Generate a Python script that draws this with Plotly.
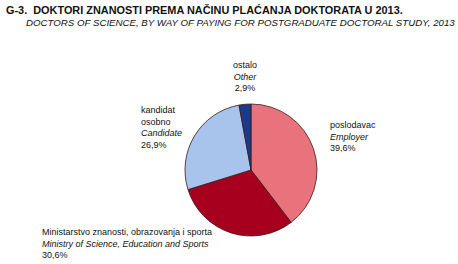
import plotly.graph_objects as go

labels_hr = ["poslodavac", "Ministarstvo znanosti, obrazovanja i sporta", "kandidat<br>osobno", "ostalo"]
labels_en = ["Employer", "Ministry of Science, Education and Sports", "Candidate", "Other"]
values = [39.6, 30.6, 26.9, 2.9]
colors = ["#E8737C", "#A6001E", "#A8C3EC", "#1B3A8A"]

FONT = "Liberation Sans Narrow, Arial Narrow, Liberation Sans, Arial, sans-serif"

fig = go.Figure()
fig.add_trace(go.Pie(
    labels=labels_en, values=values, sort=False, direction="clockwise", rotation=0,
    marker=dict(colors=colors, line=dict(color="#3a1a1a", width=0.8)),
    textinfo="none", hoverinfo="label+percent", showlegend=False,
    domain=dict(x=[185/458, 317/458], y=[(264-236)/264, (264-104)/264]),
))

def fmt(v):
    return f"{v:.1f}".replace(".", ",") + "%"

# label positions (paper coords derived from pixels)
pos = [
    (328, 118, "left"),
    (40, 225, "left"),
    (139, 103, "left"),
    (245, 58, "center"),
]
for (px, py, al), h, e, v in zip(pos, labels_hr, labels_en, values):
    fig.add_annotation(
        x=px/458, y=1-py/264, xref="paper", yref="paper",
        xanchor=al, yanchor="top", align=al,
        text=f"{h}<br><i>{e}</i><br>{fmt(v)}", showarrow=False,
        font=dict(family=FONT, size=9, color="#111"),
    )

fig.add_annotation(x=4/458, y=1-2/264, xref="paper", yref="paper", xanchor="left", yanchor="top",
                   text="<b>G-3.  DOKTORI ZNANOSTI PREMA NAČINU PLAĆANJA DOKTORATA U 2013.</b>",
                   showarrow=False, font=dict(family=FONT, size=10.9, color="#111"))
fig.add_annotation(x=457/458, y=1-15/264, xref="paper", yref="paper", xanchor="right", yanchor="top",
                   text="<i>DOCTORS OF SCIENCE, BY WAY OF PAYING FOR POSTGRADUATE DOCTORAL STUDY, 2013</i>",
                   showarrow=False, font=dict(family=FONT, size=9.7, color="#111"))

fig.update_layout(width=458, height=264, margin=dict(l=0, r=0, t=0, b=0),
                  paper_bgcolor="white", plot_bgcolor="white")
fig.write_html("out.html")
